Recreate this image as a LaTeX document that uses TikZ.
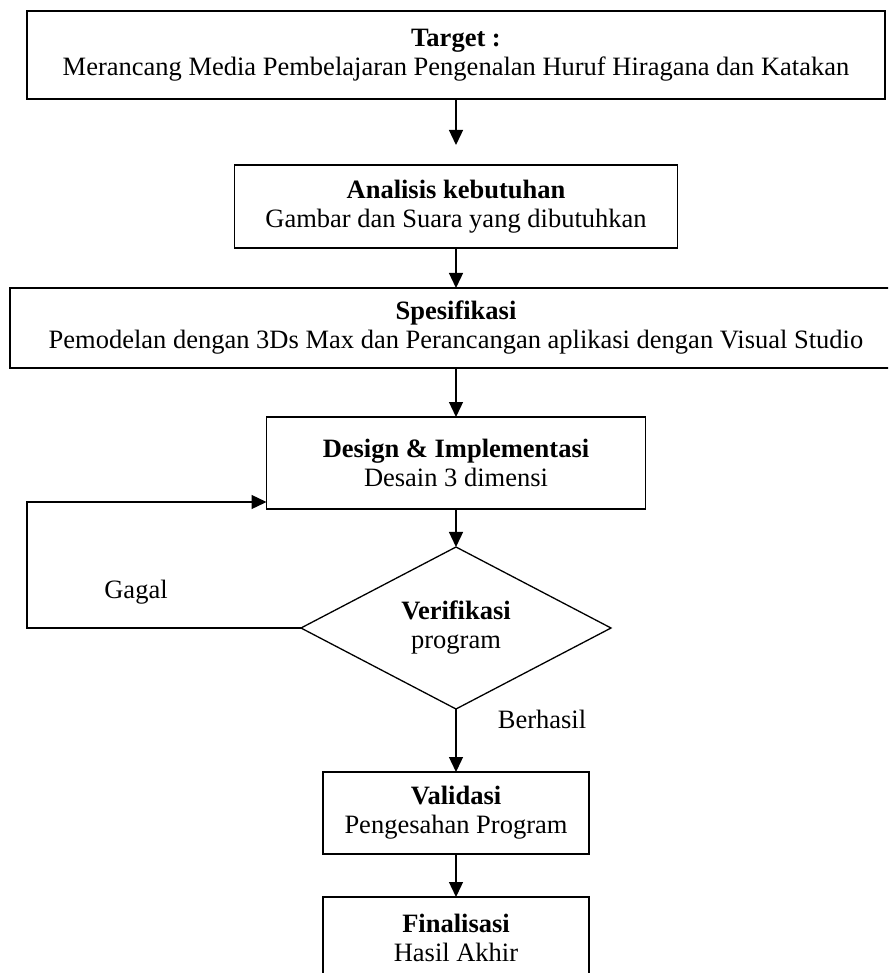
\documentclass[tikz,border=0pt]{standalone}
\usepackage{fontspec}
\setmainfont{Liberation Serif}
\usetikzlibrary{shapes.geometric,arrows.meta,positioning}

\begin{document}
\begin{tikzpicture}[
		x=1pt, y=1pt,
		every node/.style={font=\fontsize{26.5}{29}\selectfont},
		box/.style={draw, line width=1.3pt, align=center, inner sep=0pt, outer sep=0pt},
		decision/.style={box, diamond, aspect=1.91, minimum width=310pt, minimum height=162pt},
		lbl/.style={inner sep=0pt},
		arr/.style={-{Triangle[length=15pt, width=14pt]}, line width=1.3pt}
	]
		\useasboundingbox (0,0) rectangle (888,-973);
		\clip (0,0) rectangle (888,-973);

		\node[box, minimum width=858pt, minimum height=88pt]
			(target)
			at (456,-55)
			{\textbf{Target :} \\ Merancang Media Pembelajaran Pengenalan Huruf Hiragana dan Katakan};
		\node[box, minimum width=443pt, minimum height=83pt, below=66pt of target]
			(analisis)
			{\textbf{Analisis kebutuhan} \\ Gambar dan Suara yang dibutuhkan};
		\node[box, minimum width=892pt, minimum height=80pt, below=40pt of analisis]
			(spek)
			{\textbf{Spesifikasi} \\ Pemodelan dengan 3Ds Max dan Perancangan aplikasi dengan Visual Studio};
		\node[box, minimum width=379pt, minimum height=92pt, below=49pt of spek]
			(design)
			{\textbf{Design \& Implementasi} \\ Desain 3 dimensi};
		\node[decision, below=38pt of design]
			(verif)
			{\textbf{Verifikasi} \\ program};
		\node[box, minimum width=266pt, minimum height=82pt, below=63pt of verif]
			(valid)
			{\textbf{Validasi} \\ Pengesahan Program};
		\node[box, minimum width=266pt, minimum height=82pt, below=43pt of valid]
			(final)
			{\textbf{Finalisasi} \\ Hasil Akhir};

		% main flow
		\draw[arr, shorten >=20pt] (target) -- (analisis);
		\draw[arr] (analisis) -- (spek);
		\draw[arr] (spek) -- (design);
		\draw[arr] (design) -- (verif);
		\draw[arr] (verif) -- (valid);
		\draw[arr] (valid) -- (final);

		% loop back when verification fails
		\coordinate (back) at (27,0);
		\draw[arr] (verif.west) -- (verif.west -| back) |- ([yshift=7pt]design.south west);
		\node[lbl] (gagal) at (136,-592) {Gagal};
		\node[lbl] (berhasil) at (542,-719) {Berhasil};
\end{tikzpicture}
\end{document}
